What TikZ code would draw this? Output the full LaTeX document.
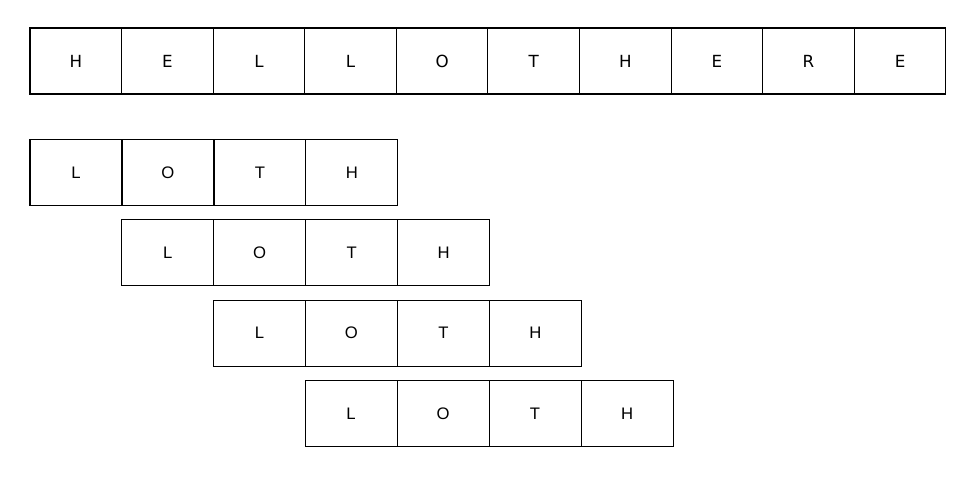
\documentclass[tikz,border=0pt]{standalone}
\usepackage{fontspec}
\setmainfont{DejaVu Sans}
\newfontfamily\arialfont{Liberation Sans}
\usetikzlibrary{positioning}

\tikzset{
	cell/.style={draw, line width=0.6pt, outer sep=0pt, inner sep=0pt,
		minimum width=1.832cm, minimum height=1.32cm, font=\fontsize{9.5}{11}\selectfont},
	subcell/.style={cell, minimum width=1.84cm, font=\arialfont\fontsize{9.5}{11}\selectfont}
}

\begin{document}
\begin{tikzpicture}[x=0.02cm, y=-0.02cm]
	\useasboundingbox (0,0) rectangle (975,477);
	% the whole text
	\node[cell] (top-1) at (75.8,61) {H};
	\foreach \ch [count=\i from 2, evaluate=\i as \j using int(\i-1)] in {E,L,L,O,T,H,E,R,E}
		\node[cell, right=0pt of top-\j] (top-\i) {\ch};
	% the pattern, shifted one cell at a time
	\foreach \r in {0,...,3} {
		\node[subcell] (row-\r-1) at (76+91.7*\r, 172.5+80.3*\r) {L};
		\node[subcell, right=0pt of row-\r-1] (row-\r-2) {O};
		\node[subcell, right=0pt of row-\r-2] (row-\r-3) {T};
		\node[subcell, right=0pt of row-\r-3] (row-\r-4) {H};
	}
\end{tikzpicture}
\end{document}
